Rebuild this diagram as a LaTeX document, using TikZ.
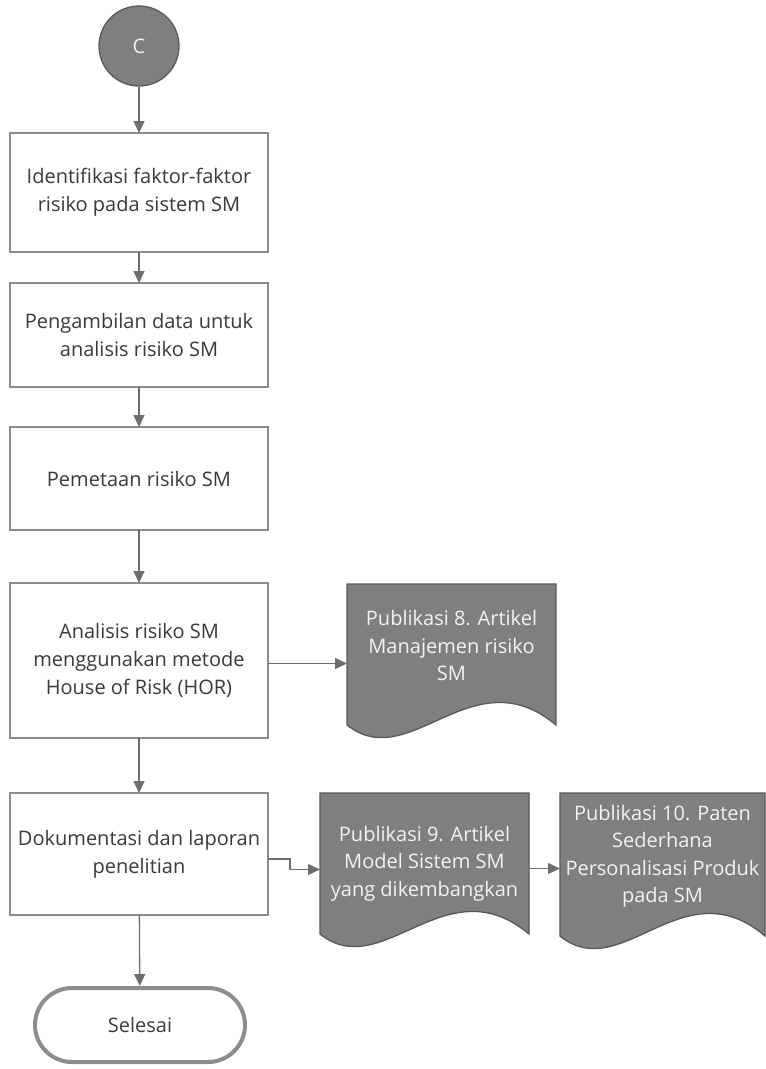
\documentclass[tikz,border=0pt]{standalone}
\usepackage{fontspec}
\setmainfont{Open Sans}
\usetikzlibrary{arrows.meta,calc,backgrounds}
\definecolor{boxline}{HTML}{8C8C8C}
\definecolor{arrowline}{HTML}{6E6E6E}
\definecolor{docfill}{HTML}{7F7F7F}
\definecolor{docline}{HTML}{595959}
\definecolor{txt}{HTML}{3A3A3A}
\definecolor{doctxt}{HTML}{F2F2F2}
\tikzset{
  stepbox/.style={draw=boxline, line width=1.3pt, fill=white, minimum width=258pt,
    text=txt, align=center, inner sep=4pt, outer sep=0pt,
    font=\fontsize{20}{28}\selectfont},
  flow/.style={draw=arrowline, line width=1.3pt, -{Triangle[length=12pt,width=11pt]}},
  docnode/.style={align=center, text=doctxt, inner sep=0pt, outer sep=0pt,
    font=\fontsize{20}{27.5}\selectfont},
  docshape/.style={fill=docfill, draw=docline, line width=1.3pt},
}
% document symbol: straight top and sides, wavy bottom edge
\newcommand\docsymbol[1]{%
  \path[docshape] let \p1=(#1.south west), \p2=(#1.south east), \n1={\x2-\x1} in
    (#1.north west) -- (#1.north east) -- (\p2)
    .. controls (\x1+0.6*\n1,\y1+70pt) and (\x1+0.3*\n1,\y1-50pt) .. (\p1) -- cycle;}
\begin{document}
\begin{tikzpicture}[x=1pt,y=-1pt]
\useasboundingbox (0,0) rectangle (766,1069);

% connector circle
\node[circle, draw=docline, line width=1.3pt, fill=docfill, minimum size=80pt,
  text=doctxt, font=\fontsize{20}{24}\selectfont] (c) at (139,46) {C};

% process steps
\node[stepbox, minimum height=119pt] (b1) at (139,192.5) {Identifikasi faktor-faktor\\risiko pada sistem SM};
\node[stepbox, minimum height=104pt] (b2) at (139,335) {Pengambilan data untuk\\analisis risiko SM};
\node[stepbox, minimum height=103pt] (b3) at (139,478.5) {Pemetaan risiko SM};
\node[stepbox, minimum height=155pt] (b4) at (139,660.5) {Analisis risiko SM\\menggunakan metode\\House of Risk (HOR)};
\node[stepbox, minimum height=122pt] (b5) at (139,854) {Dokumentasi dan laporan\\penelitian};

% terminator
\node[draw=boxline, line width=4pt, rounded corners=37pt, minimum width=210pt,
  minimum height=74pt, text=txt, font=\fontsize{20}{24}\selectfont] (end) at (140,1025) {Selesai};

% publication outputs
\node[docnode, minimum width=209pt, minimum height=141pt] (d8) at (451.5,654.5) {};
\node[docnode, minimum width=209pt, minimum height=141pt] (d9) at (424.5,863.5) {};
\node[docnode, minimum width=205pt, minimum height=143pt] (d10) at (662.5,864.5) {};
\begin{scope}[on background layer]
  \docsymbol{d8}
  \docsymbol{d9}
  \docsymbol{d10}
\end{scope}
\node[docnode] (t8) at ([yshift=9pt]d8.center) {Publikasi 8. Artikel\\Manajemen risiko\\SM};
\node[docnode] (t9) at (d9.center) {Publikasi 9. Artikel\\Model Sistem SM\\yang dikembangkan};
\node[docnode] (t10) at ([yshift=8pt]d10.center) {Publikasi 10. Paten\\Sederhana\\Personalisasi Produk\\pada SM};

% flow
\draw[flow] (c) -- (b1);
\draw[flow] (b1) -- (b2);
\draw[flow] (b2) -- (b3);
\draw[flow] (b3) -- (b4);
\draw[flow] (b4) -- (b5);
\draw[flow] (b5) -- (end);
\draw[flow] ([yshift=-3pt]b4.east) -- ([yshift=-3pt]b4.east -| d8.west);
\draw[flow] ([yshift=-5pt]b5.east) -- ++(22,0) |- ([yshift=-6pt]d9.west);
\draw[flow] ([yshift=-5pt]d9.east) -- ([yshift=-5pt]d9.east -| d10.west);
\end{tikzpicture}
\end{document}
